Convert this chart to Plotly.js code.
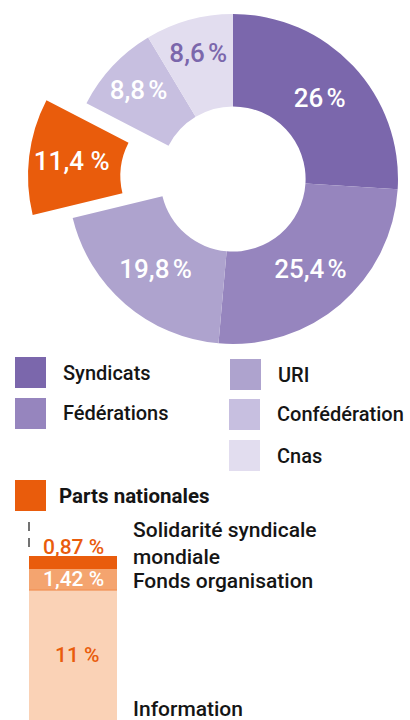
<!DOCTYPE html>
<html>
<head>
<meta charset="utf-8">
<script src="https://cdn.plot.ly/plotly-3.0.1.min.js"></script>
<style>
html,body{margin:0;padding:0;background:#fff;}
#chart{width:410px;height:720px;}
</style>
</head>
<body>
<div id="chart"></div>
<script>
// ---- Data ----
const donutLabels = ["Syndicats", "Fédérations", "URI", "Parts nationales", "Confédération", "Cnas"];
const donutValues = [26, 25.4, 19.8, 11.4, 8.8, 8.6];
const donutColors = ["#7B67AC", "#9685BE", "#AEA3CE", "#E95C0C", "#C7BFE0", "#E2DDEF"];
const donutTextColors = ["#ffffff", "#ffffff", "#ffffff", "#ffffff", "#ffffff", "#7B67AC"];
const pulledLabel = "Parts nationales";

const barLabels = ["Information", "Fonds organisation", "Solidarité syndicale<br>mondiale"];
const barValues = [11, 1.42, 0.87];
const barColors = ["#FAD2B6", "#F4A46F", "#E95C0C"];

const FONT = "Roboto, sans-serif";
const W = 410, H = 720;
function fmt(v, sep){ return String(v).replace('.', ',') + (sep||'\u202F') + '%'; }

// ---- Donut geometry (pixels) ----
const cx = 233, cy = 179, R = 165;
const pullDx = -40, pullDy = -3;
function domainFor(x, y){
  return {x:[(x-R)/W, (x+R)/W], y:[1-(y+R)/H, 1-(y-R)/H]};
}
const pulledIdx = donutLabels.indexOf(pulledLabel);
const transparent = 'rgba(0,0,0,0)';

const pieBase = {
  type: 'pie', values: donutValues, labels: donutLabels, sort: false,
  direction: 'clockwise', rotation: 0, hole: 0.44,
  textinfo: 'text', textposition: 'inside', insidetextorientation: 'horizontal',
  hoverinfo: 'none', showlegend: false
};
const pieFont = {family: FONT, size: 26, weight: 500, color: donutTextColors};
const pieMain = Object.assign({}, pieBase, {
  domain: domainFor(cx, cy),
  text: donutValues.map((v,i)=> i===pulledIdx ? '' : fmt(v)),
  marker: {colors: donutColors.map((c,i)=> i===pulledIdx ? transparent : c), line:{width:0}},
  textfont: pieFont
});
const piePulled = Object.assign({}, pieBase, {
  domain: domainFor(cx+pullDx, cy+pullDy),
  text: donutValues.map((v,i)=> i===pulledIdx ? fmt(v, ' ') : ''),
  marker: {colors: donutColors.map((c,i)=> i===pulledIdx ? c : transparent), line:{width:0}},
  textfont: pieFont
});

// ---- Stacked bar ----
const pxPerUnit = 14.9;
const yBottomVal = 2.28;          // value at the bottom of the page
const barTopPx = 520;             // top of the bar axis domain
const yTopVal = yBottomVal + (H - barTopPx)/pxPerUnit;
const barPx = 88, barLeft = 29;
const xMin = -0.5 - barLeft/barPx, xMax = xMin + W/barPx;

const barTraces = barValues.map((v,i)=>({
  type:'bar', x:[0], y:[v], width:[1], name: barLabels[i],
  marker:{color: barColors[i], line:{width:0}},
  hoverinfo:'none', showlegend:false, xaxis:'x', yaxis:'y'
}));

const shapes = [];
const annotations = [];

// thin line between Information and Fonds
shapes.push({type:'line', xref:'x', yref:'y', x0:-0.5, x1:0.5, y0:barValues[0], y1:barValues[0],
  line:{color:'#F08A4B', width:1}});

const cum = [];
barValues.reduce((a,v,i)=>{cum[i]=a+v; return a+v;}, 0);
const valFont = (c)=>({family:FONT, size:21, weight:500, color:c});
annotations.push({xref:'x', yref:'y', x:0.05, y:(Math.max(yBottomVal,0)+cum[0])/2,
  text: fmt(barValues[0], ' '), showarrow:false, font:valFont('#E95C0C')});
annotations.push({xref:'x', yref:'y', x:0, y:cum[0]+barValues[1]/2,
  text: fmt(barValues[1], ' '), showarrow:false, font:valFont('#ffffff')});
annotations.push({xref:'x', yref:'y', x:0, y:cum[2], yanchor:'bottom', yshift:-5,
  text: fmt(barValues[2], ' '), showarrow:false, font:valFont('#E95C0C')});

function px(x){return x/W;} function py(y){return 1-y/H;}
const sideY = [709, 581, 543];
barLabels.forEach((t,i)=>{
  annotations.push({xref:'paper', yref:'paper', x:px(131), y:py(sideY[i]), xanchor:'left', yanchor:'middle',
    text:t, showarrow:false, align:'left', font:{family:FONT, size:21, weight:500, color:'#151515'}});
});

// dashed leader
shapes.push({type:'line', xref:'paper', yref:'paper', x0:px(29), x1:px(29), y0:py(522), y1:py(547),
  line:{color:'#444444', width:1.5, dash:'9px,7px'}});

// ---- Legend (shapes + annotations) ----
const legendPos = {
  "Syndicats":        [15, 357],
  "Fédérations":      [15, 398],
  "URI":              [230, 359],
  "Confédération":    [229, 399],
  "Cnas":             [229, 440],
  "Parts nationales": [15, 480]
};
donutLabels.forEach((lab,i)=>{
  const p = legendPos[lab];
  const sq = 31;
  shapes.push({type:'rect', xref:'paper', yref:'paper', x0:px(p[0]), x1:px(p[0]+sq), y0:py(p[1]+sq), y1:py(p[1]),
    fillcolor: donutColors[i], line:{width:0}});
  const bold = lab===pulledLabel;
  annotations.push({xref:'paper', yref:'paper', x:px(p[0]+sq+(bold?11:15)), y:py(p[1]+sq/2), xanchor:'left', yanchor:'middle',
    text: lab, showarrow:false,
    font:{family:FONT, size: bold?20.5:20, weight: bold?700:500, color:'#151515'}});
});

const layout = {
  width: W, height: H, margin:{l:0,r:0,t:0,b:0},
  paper_bgcolor:'#ffffff', plot_bgcolor:'rgba(0,0,0,0)',
  showlegend:false, barmode:'stack', bargap:0,
  xaxis:{domain:[0,1], range:[xMin,xMax], visible:false, fixedrange:true},
  yaxis:{domain:[0, (H-barTopPx)/H], range:[yBottomVal, yTopVal], visible:false, fixedrange:true},
  shapes: shapes, annotations: annotations,
  font:{family:FONT}
};

Plotly.newPlot('chart', [...barTraces, pieMain, piePulled], layout, {staticPlot:true, displayModeBar:false});
</script>
</body>
</html>
